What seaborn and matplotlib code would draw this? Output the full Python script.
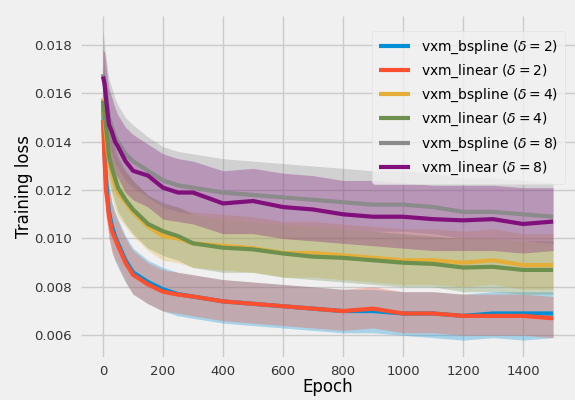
import matplotlib
matplotlib.use("Agg")
import matplotlib.pyplot as plt
import seaborn as sns
import pandas as pd
import numpy as np

# ---------------- data ----------------
epochs = [0, 5, 10, 15, 20, 30, 40, 50, 75, 100, 150, 200, 250, 300, 400, 500,
          600, 700, 800, 900, 1000, 1100, 1200, 1300, 1400, 1500]

labels = [r"vxm_bspline ($\delta = 2$)", r"vxm_linear ($\delta = 2$)",
          r"vxm_bspline ($\delta = 4$)", r"vxm_linear ($\delta = 4$)",
          r"vxm_bspline ($\delta = 8$)", r"vxm_linear ($\delta = 8$)"]
colors = ["#008fd5", "#fc4f30", "#e5ae38", "#6d904f", "#8b8b8b", "#810f7c"]

bspline2 = [0.0157, 0.0135, 0.0124, 0.0117, 0.0111, 0.0105, 0.0101, 0.0098, 0.0091, 0.0086, 0.0082, 0.0079, 0.0077,
            0.0076, 0.0074, 0.0073, 0.0072, 0.0071, 0.0070, 0.0070, 0.0069, 0.0069, 0.0068, 0.0069, 0.0069, 0.0069]
linear2 = [0.0149, 0.0133, 0.0120, 0.0115, 0.0109, 0.0103, 0.0100, 0.0097, 0.0090, 0.0085, 0.0081, 0.0078, 0.00768,
           0.0076, 0.0074, 0.0073, 0.0072, 0.0071, 0.0070, 0.0071, 0.0069, 0.0069, 0.0068, 0.0068, 0.0068, 0.0067]
bspline4 = [0.0158, 0.0150, 0.0143, 0.0137, 0.0132, 0.0127, 0.0122, 0.0119, 0.0115, 0.0111, 0.0105, 0.0101, 0.0100,
            0.0098, 0.0097, 0.0096, 0.0094, 0.0094, 0.0093, 0.0092, 0.0091, 0.0091, 0.0090, 0.0091, 0.0089, 0.0089]
linear4 = [0.0157, 0.0152, 0.0146, 0.0140, 0.0134, 0.0129, 0.0125, 0.0121, 0.0116, 0.0112, 0.0106, 0.0103, 0.0101,
           0.0098, 0.00962, 0.00955, 0.00938, 0.00925, 0.0092, 0.0091, 0.0090, 0.00895, 0.0088, 0.00883, 0.0087, 0.0087]
bspline8 = [0.0168, 0.0165, 0.0160, 0.0155, 0.0150, 0.0146, 0.0142, 0.0140, 0.0135, 0.0132, 0.0128, 0.0124, 0.0122,
            0.0121, 0.0119, 0.0118, 0.0117, 0.0116, 0.0115, 0.0114, 0.0114, 0.0113, 0.0111, 0.0111, 0.0110, 0.0109]
linear8 = [0.0167, 0.0164, 0.0158, 0.0152, 0.0147, 0.0144, 0.0140, 0.0138, 0.0132, 0.0128, 0.0126, 0.0121, 0.0119,
           0.0119, 0.01145, 0.01155, 0.0113, 0.0112, 0.0110, 0.0109, 0.0109, 0.0108, 0.01075, 0.0108, 0.0106, 0.0107]

# raw (per-epoch) loss spread: upper / lower envelopes
bspline2_hi = [0.0186, 0.0150, 0.0137, 0.0128, 0.0122, 0.0115, 0.0111, 0.0108, 0.0101, 0.0096, 0.0091, 0.0088, 0.0086,
               0.0085, 0.0083, 0.0082, 0.0081, 0.0080, 0.0079, 0.0079, 0.0078, 0.0078, 0.0077, 0.0078, 0.0078, 0.0078]
bspline2_lo = [0.0145, 0.0122, 0.0112, 0.0106, 0.0101, 0.0095, 0.0091, 0.0088, 0.0082, 0.0077, 0.0073, 0.0070, 0.0068,
               0.0067, 0.0065, 0.0064, 0.0063, 0.0062, 0.0061, 0.0061, 0.0060, 0.0059, 0.0058, 0.0059, 0.0058, 0.0059]
linear2_hi = [0.0160, 0.0148, 0.0134, 0.0127, 0.0121, 0.0114, 0.0110, 0.0107, 0.0100, 0.0095, 0.0090, 0.0087, 0.0086,
              0.0085, 0.0083, 0.0082, 0.0081, 0.0080, 0.0079, 0.0080, 0.0078, 0.0078, 0.0077, 0.0077, 0.0077, 0.0076]
linear2_lo = [0.0140, 0.0122, 0.0110, 0.0105, 0.0100, 0.0094, 0.0091, 0.0089, 0.0082, 0.0077, 0.0073, 0.0070, 0.0069,
              0.0068, 0.0066, 0.0065, 0.0064, 0.0063, 0.0062, 0.0063, 0.0061, 0.0061, 0.0060, 0.0060, 0.0060, 0.0059]
bspline4_hi = [0.0187, 0.0170, 0.0160, 0.0152, 0.0146, 0.0140, 0.0135, 0.0132, 0.0128, 0.0124, 0.0118, 0.0114, 0.0113,
               0.0111, 0.0110, 0.0109, 0.0107, 0.0107, 0.0106, 0.0105, 0.0104, 0.0104, 0.0103, 0.0104, 0.0102, 0.0102]
bspline4_lo = [0.0148, 0.0140, 0.0133, 0.0127, 0.0122, 0.0117, 0.0112, 0.0109, 0.0105, 0.0101, 0.0095, 0.0091, 0.0090,
               0.0088, 0.0087, 0.0086, 0.0084, 0.0084, 0.0083, 0.0082, 0.0081, 0.0081, 0.0080, 0.0081, 0.0079, 0.0079]
linear4_hi = [0.0172, 0.0166, 0.0160, 0.0153, 0.0147, 0.0142, 0.0138, 0.0134, 0.0128, 0.0124, 0.0118, 0.0115, 0.0113,
              0.0110, 0.0108, 0.0107, 0.0106, 0.0105, 0.0104, 0.0103, 0.0102, 0.0101, 0.0100, 0.0100, 0.0099, 0.0099]
linear4_lo = [0.0147, 0.0142, 0.0136, 0.0130, 0.0124, 0.0119, 0.0115, 0.0111, 0.0106, 0.0102, 0.0096, 0.0093, 0.0091,
              0.0088, 0.0086, 0.0086, 0.0084, 0.0083, 0.0082, 0.0081, 0.0080, 0.0080, 0.0078, 0.0078, 0.0077, 0.0077]
bspline8_hi = [0.0186, 0.0180, 0.0175, 0.0170, 0.0166, 0.0162, 0.0158, 0.0155, 0.0150, 0.0147, 0.0142, 0.0138, 0.0136,
               0.0135, 0.0133, 0.0132, 0.0131, 0.0130, 0.0129, 0.0128, 0.0128, 0.0127, 0.0125, 0.0125, 0.0124, 0.0123]
bspline8_lo = [0.0157, 0.0154, 0.0149, 0.0144, 0.0139, 0.0135, 0.0131, 0.0129, 0.0124, 0.0121, 0.0117, 0.0113, 0.0111,
               0.0110, 0.0108, 0.0107, 0.0106, 0.0105, 0.0104, 0.0103, 0.0103, 0.0102, 0.0100, 0.0100, 0.0099, 0.0098]
linear8_hi = [0.0178, 0.0177, 0.0172, 0.0166, 0.0162, 0.0158, 0.0154, 0.0151, 0.0146, 0.0143, 0.0139, 0.0135, 0.0133,
              0.0132, 0.0128, 0.0129, 0.0127, 0.0126, 0.0124, 0.0124, 0.0123, 0.0122, 0.0122, 0.0122, 0.0121, 0.0121]
linear8_lo = [0.0155, 0.0150, 0.0145, 0.0139, 0.0134, 0.0131, 0.0127, 0.0125, 0.0119, 0.0116, 0.0113, 0.0108, 0.0107,
              0.0106, 0.0102, 0.0102, 0.0100, 0.0099, 0.0098, 0.0097, 0.0096, 0.0095, 0.0095, 0.0095, 0.0094, 0.0095]

smoothed = [bspline2, linear2, bspline4, linear4, bspline8, linear8]
highs = [bspline2_hi, linear2_hi, bspline4_hi, linear4_hi, bspline8_hi, linear8_hi]
lows = [bspline2_lo, linear2_lo, bspline4_lo, linear4_lo, bspline8_lo, linear8_lo]

# ---------------- style ----------------
plt.style.use("fivethirtyeight")
sns.set_style({"axes.facecolor": "#f0f0f0", "figure.facecolor": "#f0f0f0",
               "grid.color": "#cbcbcb", "axes.edgecolor": "#f0f0f0"})
plt.rcParams["font.family"] = ["DejaVu Sans"]

fig = plt.figure(figsize=(5.75, 4.0), dpi=100, facecolor="#f0f0f0")
ax = fig.add_axes([0.140, 0.1075, 0.861, 0.8525])
ax.set_facecolor("#f0f0f0")

for hi, lo, c in zip(highs, lows, colors):
    ax.fill_between(epochs, lo, hi, color=c, alpha=0.3, linewidth=0)

df = pd.concat([pd.DataFrame({"Epoch": epochs, "loss": s, "run": lab})
                for s, lab in zip(smoothed, labels)], ignore_index=True)
sns.lineplot(data=df, x="Epoch", y="loss", hue="run", hue_order=labels,
             palette=colors, linewidth=3, ax=ax, legend=True)

ax.set_xlim(-75, 1575)
ax.set_ylim(0.0051, 0.0192)
ax.set_xticks([0, 200, 400, 600, 800, 1000, 1200, 1400])
ax.set_yticks([0.006, 0.008, 0.010, 0.012, 0.014, 0.016, 0.018])
ax.set_yticklabels(["0.006", "0.008", "0.010", "0.012", "0.014", "0.016", "0.018"])
ax.tick_params(axis="both", labelsize=9.5, colors="#333333", pad=6)
ax.set_xlabel("Epoch", fontsize=12, labelpad=0)
ax.set_ylabel("Training loss", fontsize=12, labelpad=1)
ax.grid(True, color="#cbcbcb", linewidth=1)
for sp in ax.spines.values():
    sp.set_visible(False)

leg = ax.legend(loc="upper right", fontsize=10, frameon=True, handlelength=2.2,
                borderpad=0.5, labelspacing=0.5, bbox_to_anchor=(0.993, 0.975))
leg.get_frame().set_facecolor("#f0f0f0")
leg.get_frame().set_edgecolor("#dddddd")
for h in leg.get_lines():
    h.set_linewidth(3)

fig.savefig("out.png", dpi=100, facecolor="#f0f0f0")
